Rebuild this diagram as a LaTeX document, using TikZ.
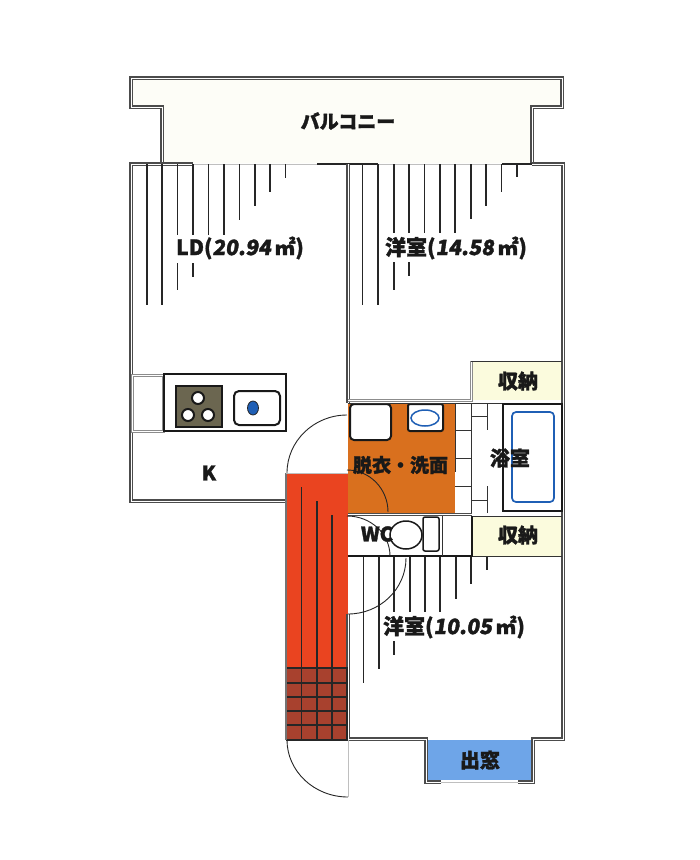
\documentclass[tikz,border=0pt]{standalone}
\usepackage{fontspec}
\setmainfont{Noto Sans CJK JP}[BoldFeatures={FakeBold=1.6}]
\newfontfamily\jpslant[FakeSlant=0.15,FakeBold=1.6]{Noto Sans CJK JP Bold}
\usepackage{xcolor}
\definecolor{balconyc}{HTML}{FDFDF7}
\definecolor{storec}{HTML}{FBFBDD}
\definecolor{washc}{HTML}{D9701E}
\definecolor{stairc}{HTML}{EA4420}
\definecolor{stepc}{HTML}{A8412E}
\definecolor{bayc}{HTML}{6EA5E8}
\definecolor{stovec}{HTML}{6B6650}
\definecolor{sinkc}{HTML}{1F5FB5}
\tikzset{
  wall/.style={draw=black!70, line width=1.1pt, double=white, double distance=1pt},
  softwall/.style={draw=black!45, line width=1pt, double=white, double distance=1pt},
  thickwall/.style={draw=black!85, line width=2.6pt},
  thinwall/.style={draw=black!25, line width=1pt},
  partition/.style={draw=black!80, line width=1pt},
  hatch/.style={draw=black!85, line width=1.3pt},
  fixture/.style={draw=black!90, line width=2pt},
  doorarc/.style={draw=black!85, line width=0.9pt},
  lab/.style={font=\bfseries\fontsize{20}{20}\selectfont, text=black!90, inner sep=0pt},
  roomlab/.style={lab, font=\bfseries\fontsize{21}{21}\selectfont},
  smalllab/.style={lab, font=\bfseries\fontsize{19}{19}\selectfont}
}
\newcommand{\sqm}[1]{({\jpslant #1}\,㎡)}
\begin{document}
\begin{tikzpicture}[x=1pt,y=-1pt]
\useasboundingbox (0,0) rectangle (700,860);
\fill[white] (0,0) rectangle (700,860);

% balcony
\fill[balconyc] (131,78) -- (562,78) -- (562,107) -- (532,107) -- (532,163) -- (162,163) -- (162,107) -- (131,107) -- cycle;
\draw[wall] (162,163) -- (162,107) -- (131,107) -- (131,78) -- (562,78) -- (562,107) -- (532,107) -- (532,163);
\node[smalllab] (balcony) at (348,121) {バルコニー};

% coloured floors
\fill[washc] (348,403) rectangle (455,513);
\fill[stairc] (286,473) rectangle (348,668);
\fill[stepc] (286,668) rectangle (348,740);
\fill[storec] (472,361) rectangle (562,400);
\fill[storec] (472,516) rectangle (562,556);
\fill[bayc] (427,740) rectangle (532,780);

% outer walls
\draw[wall] (286,501) -- (131,501) -- (131,164) -- (193,164);
\draw[thinwall] (193,164) -- (317,164);
\draw[thickwall] (317,164) -- (378,164);
\draw[thinwall] (378,164) -- (502,164);
\draw[thickwall] (502,164) -- (532,164);
\draw[wall] (532,164) -- (563,164) -- (563,739) -- (533,739) -- (533,782) -- (518,782);
\draw[thinwall] (518,782) -- (441,782);
\draw[wall] (441,782) -- (426,782) -- (426,739) -- (348,739) -- (348,614);
\draw[wall] (348,164) -- (348,403);
\draw[softwall] (348,400) -- (471,400) -- (471,361);
\draw[partition] (471,361) -- (562,361);

% hatching of the living room
\foreach \x/\yb in {147/305,162/305,177.5/235,193/235,208.5/235,224/235,239.5/220,255/206,270/192,285.5/178}{
  \draw[hatch] (\x,164) -- (\x,\yb);
}
\draw[hatch] (177.5,263) -- (177.5,290);
\draw[hatch] (193,263) -- (193,277);

% hatching of the upper bedroom
\foreach \x/\yb in {362.7/305,378/305,394/233,409/233,424.5/233,440/233,455/233,471/219,486/206,501.5/192,517/177}{
  \draw[hatch] (\x,164) -- (\x,\yb);
}
\draw[hatch] (394,262) -- (394,290);
\draw[hatch] (409,262) -- (409,276);

% hatching of the lower bedroom
\foreach \x/\yb in {363.5/683,379/669,394/612,410/612,425/612,440/612,456/599,471/584,487/570}{
  \draw[hatch] (\x,557) -- (\x,\yb);
}
\draw[hatch] (394,641) -- (394,655);

% kitchen
\draw[softwall] (132,375) rectangle (163,431);
\draw[fixture] (164,374) rectangle (286,431);
\draw[fixture, fill=stovec] (176,386) rectangle (222,427);
\foreach \x/\y in {198/398,188/415,208/415}{
  \draw[fixture, fill=white] (\x,\y) circle (6);
}
\draw[fixture, rounded corners=5pt] (234,391) rectangle (280,425);
\draw[draw=black!85, line width=0.8pt, fill=sinkc] (253,408) ellipse (5.5 and 7);
\node[lab] (kitchen) at (209,473) {K};

% stairs
\foreach \x/\yt in {301.5/487,317/501,332/515}{
  \draw[hatch] (\x,\yt) -- (\x,740);
}
\foreach \y in {668,683,697,711,725,740}{
  \draw[hatch] (286,\y) -- (348,\y);
}
\draw[hatch] (347,668) -- (347,740);
\draw[draw=black!55, line width=2pt] (285.5,473) -- (285.5,740);
\draw[thinwall] (286,473) -- (348,473);
\draw[doorarc] (347,415) .. controls (314,415) and (287,441) .. (287,473);
\draw[doorarc] (287,740) .. controls (287,771) and (314,797) .. (348,797);
\draw[thinwall] (348,740) -- (348,797);

% washroom
\draw[fixture, fill=white, rounded corners=4pt] (350,404) rectangle (391,440);
\draw[fixture, fill=white, rounded corners=2pt] (408,404) rectangle (443,431);
\draw[draw=sinkc, line width=1.5pt] (425,418) ellipse (14 and 8);
\draw[doorarc] (347,470) .. controls (370,470) and (388,489) .. (388,512);
\node[smalllab] (wash) at (400.5,465) {脱衣・洗面};

% bath
\draw[partition] (455,403) -- (455,472);
\draw[partition] (471,403) -- (471,513);
\foreach \y in {430,458,486}{
  \draw[partition] (455,\y) -- (471,\y);
}
\foreach \y in {416,500}{
  \draw[partition] (471,\y) -- (487,\y);
}
\draw[partition] (487,403) -- (487,430);
\draw[partition] (487,486) -- (487,513);
\draw[partition] (348,403) -- (503,403);
\draw[fixture] (503,404) rectangle (562,511);
\draw[draw=sinkc, line width=1.7pt, rounded corners=4pt] (512,412) rectangle (554,502);
\node[lab] (bath) at (510,458) {浴室};

% storage
\node[lab] (storeup) at (518,381) {収納};
\node[lab] (storelow) at (518,535) {収納};
\draw[partition] (472,516) -- (562,516);
\draw[partition] (472,556) -- (562,556);

% wc
\draw[wall] (348,514.5) -- (472,514.5);
\draw[fixture] (348,556) -- (472,556) -- (472,516);
\draw[partition] (442,516) -- (442,556);
\draw[fixture, line width=1.5pt] (406,535) ellipse (16 and 14);
\draw[fixture, line width=1.5pt, fill=white, rounded corners=2pt] (423,517) rectangle (439,551);
\draw[doorarc] (347,516) .. controls (371,516) and (390,534) .. (390,556);
\draw[doorarc] (406,558) .. controls (406,589) and (380,614) .. (348,614);
\node[lab] (wc) at (377,534) {WC};

% room labels
\node[roomlab] (living) at (240,248) {LD\sqm{20.94}};
\node[roomlab] (bedup) at (456,248) {洋室\sqm{14.58}};
\node[roomlab] (bedlow) at (454,627) {洋室\sqm{10.05}};
\node[lab] (bay) at (480,760) {出窓};
\end{tikzpicture}
\end{document}
